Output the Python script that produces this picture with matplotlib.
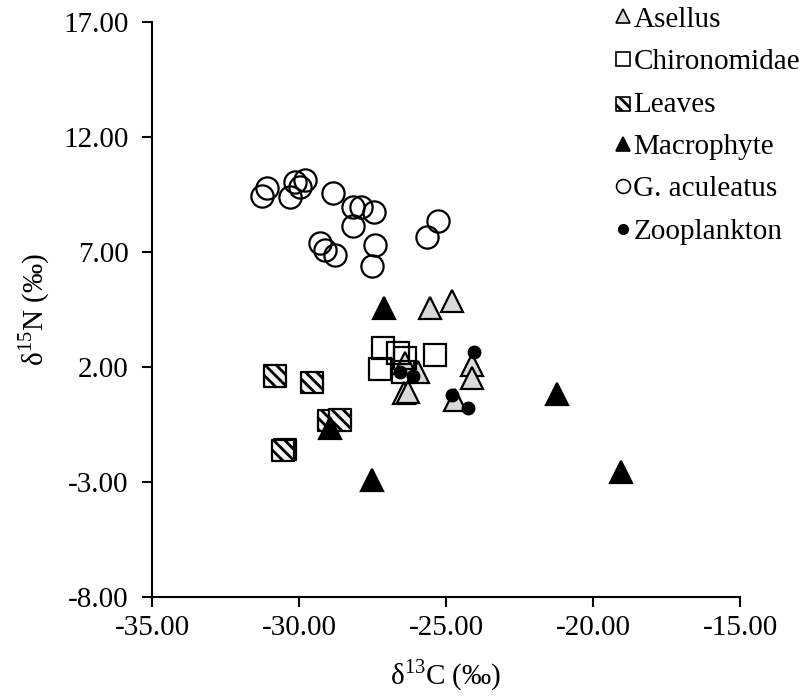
import matplotlib
matplotlib.use("Agg")
import matplotlib.pyplot as plt
from matplotlib.lines import Line2D
from matplotlib.ticker import FuncFormatter

plt.rcParams['font.family'] = ['Liberation Serif', 'DejaVu Serif']
plt.rcParams['mathtext.fontset'] = 'custom'
plt.rcParams['mathtext.rm'] = 'Liberation Serif'
plt.rcParams['hatch.linewidth'] = 2.0
plt.rcParams['axes.unicode_minus'] = False

# ---- data (delta13C, delta15N) ----
asellus_x = [-25.54, -24.81, -26.39, -25.94, -26.42, -26.28, -24.11, -24.11, -24.68]
asellus_y = [4.57, 4.88, 2.17, 1.80, 0.86, 0.93, 2.07, 1.54, 0.57]

chiro_x = [-27.15, -26.64, -26.39, -27.24, -26.47, -25.37]
chiro_y = [2.81, 2.60, 2.38, 1.90, 1.80, 2.52]

leaves_x = [-30.82, -29.55, -28.98, -28.61, -30.48, -30.55]
leaves_y = [1.61, 1.32, -0.33, -0.30, -1.58, -1.64]

macro_x = [-27.11, -28.95, -27.53, -21.23, -19.06]
macro_y = [4.55, -0.67, -2.91, 0.83, -2.55]

gacul_x = [-31.27, -31.08, -30.31, -30.14, -29.97, -29.80, -28.85, -28.15, -27.90,
           -27.44, -28.17, -29.29, -29.12, -28.78, -27.41, -27.51, -25.66, -25.28]
gacul_y = [9.45, 9.80, 9.38, 10.03, 9.84, 10.13, 9.55, 8.94, 8.94,
           8.75, 8.13, 7.40, 7.09, 6.87, 7.30, 6.40, 7.67, 8.35]

zoo_x = [-24.05, -26.56, -26.11, -24.79, -24.26]
zoo_y = [2.67, 1.80, 1.61, 0.78, 0.23]

labels = ["Asellus", "Chironomidae", "Leaves", "Macrophyte", "G. aculeatus", "Zooplankton"]
xticks = [-35, -30, -25, -20, -15]
yticks = [-8, -3, 2, 7, 12, 17]

fig = plt.figure(figsize=(8.10, 6.97), dpi=100)
ax = fig.add_axes([0.1877, 0.1435, 0.7259, 0.8249])

ms = 16
lw = 1.6
ax.plot(asellus_x, asellus_y, linestyle='none', marker='^', ms=ms, mfc='#d9d9d9', mec='black', mew=lw)
ax.plot(chiro_x, chiro_y, linestyle='none', marker='s', ms=ms - 0.5, mfc='none', mec='black', mew=lw)
ax.scatter(leaves_x, leaves_y, marker='s', s=(ms - 0.5) ** 2, facecolor='#f2f2f2',
           edgecolor='black', linewidths=lw, hatch='\\\\\\')
ax.plot(macro_x, macro_y, linestyle='none', marker='^', ms=ms, mfc='black', mec='black', mew=lw)
ax.plot(gacul_x, gacul_y, linestyle='none', marker='o', ms=ms, mfc='none', mec='black', mew=lw)
ax.plot(zoo_x, zoo_y, linestyle='none', marker='o', ms=9, mfc='black', mec='black', mew=1)

ax.set_xlim(-35, -15)
ax.set_ylim(-8, 17)
ax.set_xticks(xticks)
ax.set_yticks(yticks)
fmt = FuncFormatter(lambda v, p: f"{v:.2f}")
ax.xaxis.set_major_formatter(fmt)
ax.yaxis.set_major_formatter(fmt)
ax.tick_params(labelsize=21, length=7, width=1.5, direction='out')
ax.tick_params(axis='y', pad=10)
ax.tick_params(axis='x', pad=6)
for s in ['top', 'right']:
    ax.spines[s].set_visible(False)
for s in ['left', 'bottom']:
    ax.spines[s].set_linewidth(1.5)

ax.set_xlabel(r"δ$^{\mathrm{13}}$C (‰)", fontsize=21, labelpad=12)
ax.set_ylabel(r"δ$^{\mathrm{15}}$N (‰)", fontsize=21, labelpad=8)

lms = 10
leaves_handle = ax.scatter([], [], marker='s', s=lms ** 2, facecolor='#f2f2f2',
                           edgecolor='black', linewidths=1.2, hatch='\\\\\\')
handles = [
    Line2D([], [], linestyle='none', marker='^', ms=lms, mfc='#d9d9d9', mec='black', mew=1.2),
    Line2D([], [], linestyle='none', marker='s', ms=lms, mfc='none', mec='black', mew=1.2),
    leaves_handle,
    Line2D([], [], linestyle='none', marker='^', ms=lms, mfc='black', mec='black', mew=1.2),
    Line2D([], [], linestyle='none', marker='o', ms=lms, mfc='none', mec='black', mew=1.2),
    Line2D([], [], linestyle='none', marker='o', ms=7, mfc='black', mec='black', mew=1),
]
fig.legend(handles, labels, loc='upper left', bbox_to_anchor=(0.744, 1.012), frameon=False,
           fontsize=21, handlelength=0.4, handletextpad=0.15, labelspacing=0.55, borderpad=0,
           scatterpoints=1)

fig.savefig("out.png", dpi=100)
